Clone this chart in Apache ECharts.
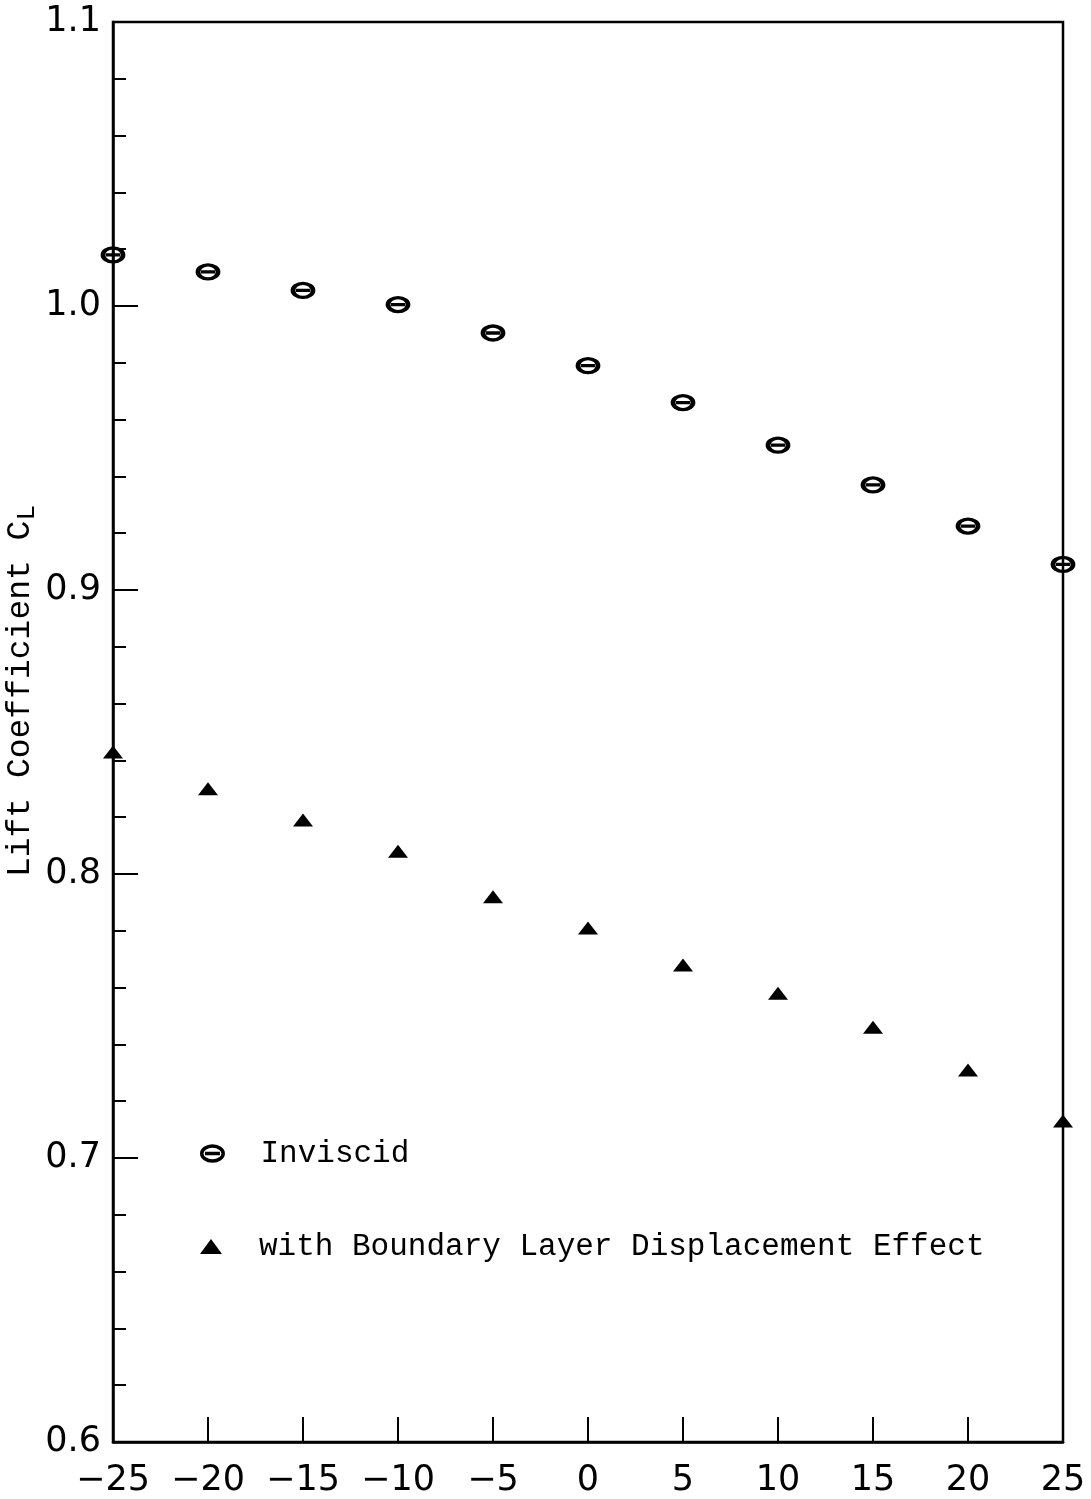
<!DOCTYPE html>
<html>
<head>
<meta charset="utf-8">
<script src="https://cdn.jsdelivr.net/npm/echarts@6/dist/echarts.min.js"></script>
<style>
html,body{margin:0;padding:0;background:#fff;}
#chart{width:1091px;height:1499px;}
</style>
</head>
<body>
<div id="chart"></div>
<script>
// Data
const xValues = [-25, -20, -15, -10, -5, 0, 5, 10, 15, 20, 25];
const inviscid = [1.018, 1.012, 1.0055, 1.0005, 0.9905, 0.979, 0.966, 0.951, 0.937, 0.9225, 0.909];
const withBL = [0.843, 0.830, 0.819, 0.808, 0.792, 0.781, 0.768, 0.758, 0.746, 0.731, 0.713];
const seriesNames = ['Inviscid', 'with Boundary Layer Displacement Effect'];
const yAxisTitle = 'Lift Coefficient C';
const yAxisTitleSub = 'L';

const pair = (xs, ys) => xs.map((x, i) => [x, ys[i]]);
const thetaPath = 'path://M0,7A10,7,0,1,1,20,7A10,7,0,1,1,0,7ZM3,7L17,7';

const chart = echarts.init(document.getElementById('chart'), null, {renderer: 'canvas'});
const tickFont = {fontFamily: 'DejaVu Sans', fontSize: 35, color: '#000'};
chart.setOption({
  backgroundColor: '#fff',
  animation: false,
  grid: {left: 113, right: 28, top: 22, bottom: 57, show: true, borderColor: '#000', borderWidth: 2.5, containLabel: false},
  xAxis: {
    type: 'value', min: -25, max: 25, interval: 5,
    axisLine: {show: true, onZero: false, lineStyle: {color: '#000', width: 2.5}},
    axisTick: {show: true, inside: true, length: 25, lineStyle: {color: '#000', width: 2}},
    splitLine: {show: false},
    axisLabel: Object.assign({margin: 21, formatter: v => (v < 0 ? '\u2212' + Math.abs(v) : String(v))}, tickFont)
  },
  yAxis: {
    type: 'value', min: 0.6, max: 1.1, interval: 0.1,
    axisLine: {show: true, onZero: false, lineStyle: {color: '#000', width: 2.5}},
    axisTick: {show: true, inside: true, length: 25, lineStyle: {color: '#000', width: 2}},
    minorTick: {show: true, splitNumber: 5, length: 13, lineStyle: {color: '#000', width: 2}},
    splitLine: {show: false},
    axisLabel: Object.assign({margin: 12, formatter: v => v.toFixed(1)}, tickFont)
  },
  legend: [
    {
      data: [seriesNames[0]], left: 195, top: 1133, orient: 'vertical',
      itemWidth: 22, itemHeight: 15, itemGap: 0,
      itemStyle: {borderWidth: 3.5, borderColor: '#000', color: 'rgba(0,0,0,0)', opacity: 1},
      textStyle: {fontFamily: 'Liberation Mono', fontSize: 31, color: '#000', padding: [0, 0, 8, 32]}
    },
    {
      data: [seriesNames[1]], left: 195, top: 1226, orient: 'vertical',
      itemWidth: 22, itemHeight: 15, itemGap: 0,
      itemStyle: {color: '#000', opacity: 1},
      textStyle: {fontFamily: 'Liberation Mono', fontSize: 31, color: '#000', padding: [0, 0, 0, 32]}
    }
  ],
  graphic: [{
    type: 'text',
    left: 4, top: 505,
    rotation: Math.PI / 2,
    style: {
      rich: {
        m: {fontFamily: 'Liberation Mono', fontSize: 33, fill: '#000'},
        s: {fontFamily: 'Liberation Mono', fontSize: 26, fill: '#000', padding: [14, 0, 0, 0]}
      },
      text: '{m|' + yAxisTitle + '}{s|' + yAxisTitleSub + '}'
    }
  }],
  series: [
    {
      name: seriesNames[0], type: 'scatter', clip: false,
      symbol: thetaPath, symbolSize: [20, 14],
      itemStyle: {color: 'rgba(0,0,0,0)', borderColor: '#000', borderWidth: 4, opacity: 1},
      data: pair(xValues, inviscid)
    },
    {
      name: seriesNames[1], type: 'scatter', clip: false,
      symbol: 'triangle', symbolSize: [20, 13],
      itemStyle: {color: '#000', opacity: 1},
      data: pair(xValues, withBL)
    }
  ]
});
</script>
</body>
</html>
